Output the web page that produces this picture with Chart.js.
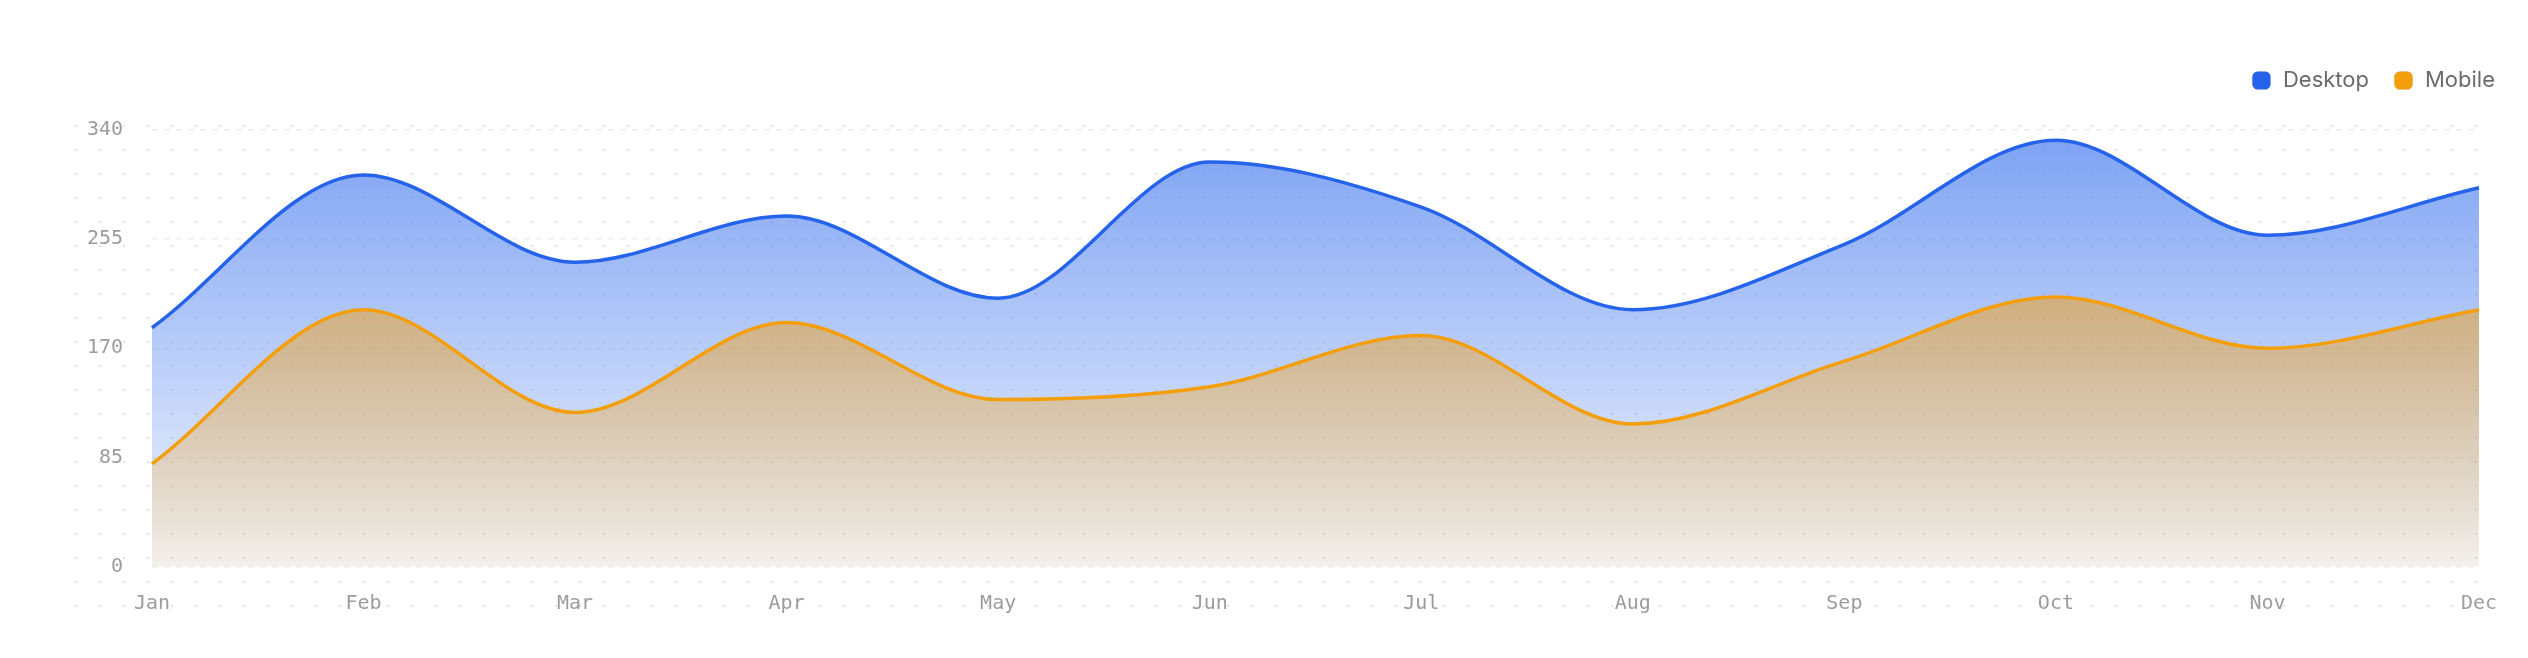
<!DOCTYPE html>
<html>
<head>
<meta charset="utf-8">
<script src="https://cdn.jsdelivr.net/npm/chart.js@4.4.1/dist/chart.umd.min.js"></script>
<style>
  html, body { margin: 0; padding: 0; background: #fff; }
  #wrap { position: relative; width: 2528px; height: 658px; }
</style>
</head>
<body>
<div id="wrap"><canvas id="chart"></canvas></div>
<script>
const months = ['Jan', 'Feb', 'Mar', 'Apr', 'May', 'Jun', 'Jul', 'Aug', 'Sep', 'Oct', 'Nov', 'Dec'];
const desktop = [186, 305, 237, 273, 209, 315, 280, 200, 251, 332, 258, 295];
const mobile = [80, 200, 120, 190, 130, 140, 180, 111, 160, 210, 170, 200];
const yTicks = [0, 85, 170, 255, 340];

const BLUE = '37, 99, 235';
const AMBER = '245, 158, 11';

// vertical fade over the chart area
function fade(rgb, top, bottom) {
  return ctx => {
    const area = ctx.chart.chartArea;
    if (!area) return `rgba(${rgb}, ${top})`;
    const g = ctx.chart.ctx.createLinearGradient(0, area.top, 0, area.bottom);
    g.addColorStop(0, `rgba(${rgb}, ${top})`);
    g.addColorStop(1, `rgba(${rgb}, ${bottom})`);
    return g;
  };
}

// dotted paper behind the plot
const dots = {
  id: 'dots',
  beforeDraw(chart) {
    const { ctx, chartArea: a } = chart;
    const x0 = a.left - 88, y0 = a.top - 16, x1 = a.right + 11, y1 = a.bottom + 52;
    ctx.save();
    ctx.fillStyle = '#e2e2e2';
    for (let y = y0 + 12; y < y1; y += 24) {
      for (let x = x0 + 12; x < x1; x += 24) {
        ctx.fillRect(x - 1, y - 1, 2, 2);
      }
    }
    ctx.restore();
  }
};

// extra room between legend and plot
const legendGap = {
  id: 'legendGap',
  beforeLayout(chart) {
    const lg = chart.legend;
    if (!lg || lg._gapped) return;
    const fit = lg.fit;
    lg.fit = function () { fit.call(this); this.height += 28.5; };
    lg._gapped = true;
  }
};

const tickFont = { family: 'DejaVu Sans Mono', size: 20 };

new Chart(document.getElementById('chart'), {
  type: 'line',
  data: {
    labels: months,
    datasets: [
      {
        label: 'Desktop',
        data: desktop,
        order: 1,
        borderColor: `rgb(${BLUE})`,
        backgroundColor: fade(BLUE, 0.6, 0.05),
        fill: 'origin',
        borderWidth: 3.5,
        pointRadius: 0,
        cubicInterpolationMode: 'monotone'
      },
      {
        label: 'Mobile',
        data: mobile,
        order: 0,
        borderColor: `rgb(${AMBER})`,
        backgroundColor: fade(AMBER, 0.78, 0.08),
        fill: 'origin',
        borderWidth: 3.5,
        pointRadius: 0,
        cubicInterpolationMode: 'monotone'
      }
    ]
  },
  options: {
    responsive: true,
    maintainAspectRatio: false,
    animation: false,
    layout: { padding: { top: 45.5, right: 9, bottom: 16.5, left: 0 } },
    plugins: {
      tooltip: { enabled: false },
      legend: {
        position: 'top',
        align: 'end',
        labels: {
          usePointStyle: true,
          boxWidth: 21,
          boxHeight: 15,
          padding: 24,
          color: '#6b6b6b',
          font: { family: 'Inter', size: 22 },
          generateLabels(chart) {
            return chart.data.datasets.map((ds, i) => ({
              text: ds.label,
              datasetIndex: i,
              fillStyle: ds.borderColor,
              strokeStyle: 'rgba(0,0,0,0.06)',
              lineWidth: 1,
              pointStyle: 'rectRounded',
              fontColor: '#6b6b6b',
              hidden: false
            }));
          }
        }
      }
    },
    scales: {
      x: {
        grid: { display: false, drawTicks: false },
        border: { display: false },
        ticks: { color: '#9c9c9c', font: tickFont, padding: 25.5, maxRotation: 0 }
      },
      y: {
        min: yTicks[0],
        max: yTicks[yTicks.length - 1],
        afterBuildTicks: s => { s.ticks = yTicks.map(v => ({ value: v })); },
        afterFit: s => { s.width = 152; },
        grid: { color: '#ededed', lineWidth: 1.5, drawTicks: false },
        border: { display: false, dash: [6, 6] },
        ticks: { color: '#9c9c9c', font: tickFont, padding: 29 }
      },
      pad: {
        position: 'right',
        min: 0,
        max: 1,
        afterFit: s => { s.width = 40; },
        grid: { display: false },
        border: { display: false },
        ticks: { display: false }
      }
    }
  },
  plugins: [dots, legendGap]
});
</script>
</body>
</html>
